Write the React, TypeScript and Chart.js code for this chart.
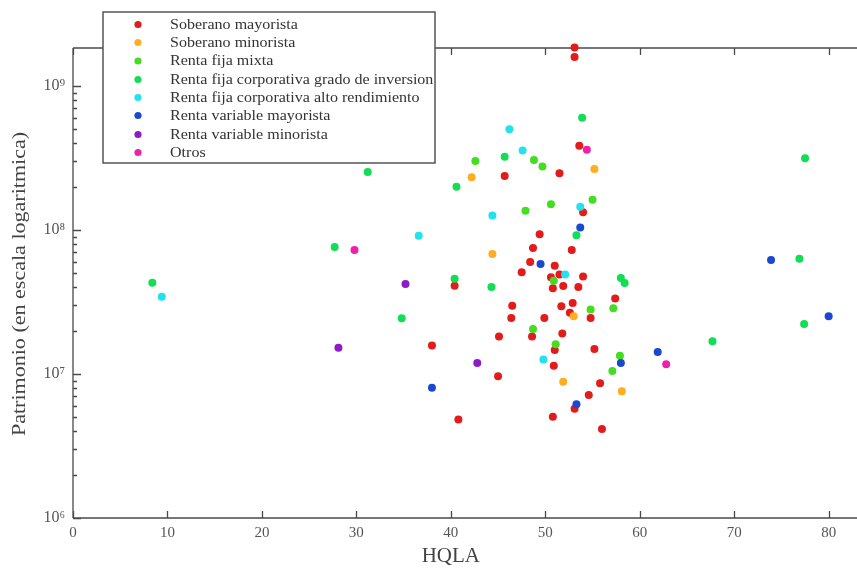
import React, { useEffect, useRef } from "react";
import { Chart, registerables } from "chart.js";

Chart.register(...registerables);

// ---------- data ----------
const seriesNames = [
  "Soberano mayorista",
  "Soberano minorista",
  "Renta fija mixta",
  "Renta fija corporativa grado de inversion",
  "Renta fija corporativa alto rendimiento",
  "Renta variable mayorista",
  "Renta variable minorista",
  "Otros",
];
const seriesColors = [
  "#e21b1b",
  "#ffae1f",
  "#44dd22",
  "#11dd55",
  "#22e2ee",
  "#1a48d0",
  "#8c1cc8",
  "#ee22aa",
];

const soberanoMayoristaX = [53.1, 53.1, 53.6, 51.5, 45.7, 54.0, 49.4, 48.7, 52.8, 48.4, 51.0, 47.5, 50.6, 51.5, 54.0, 50.8, 51.9, 53.5, 40.4, 57.4, 46.5, 46.4, 51.7, 52.9, 52.6, 49.9, 54.8, 48.6, 45.1, 51.8, 38.0, 51.0, 55.2, 50.9, 45.0, 55.8, 54.6, 53.1, 50.8, 40.8, 56.0];
const soberanoMayoristaY = [1.85e9, 1.59e9, 3.85e8, 2.48e8, 2.37e8, 1.33e8, 9.33e7, 7.5e7, 7.26e7, 6.0e7, 5.65e7, 5.08e7, 4.7e7, 4.9e7, 4.75e7, 3.94e7, 4.08e7, 4.02e7, 4.1e7, 3.34e7, 2.98e7, 2.45e7, 2.95e7, 3.11e7, 2.66e7, 2.45e7, 2.45e7, 1.82e7, 1.82e7, 1.91e7, 1.58e7, 1.47e7, 1.49e7, 1.14e7, 9.64e6, 8.61e6, 7.14e6, 5.74e6, 5.05e6, 4.84e6, 4.15e6];

const soberanoMinoristaX = [55.2, 42.2, 44.4, 53.0, 51.9, 58.1];
const soberanoMinoristaY = [2.65e8, 2.32e8, 6.81e7, 2.52e7, 8.85e6, 7.6e6];

const rentaFijaMixtaX = [42.6, 48.8, 49.7, 55.0, 50.6, 47.9, 50.9, 48.7, 51.1, 54.8, 57.2, 57.9, 57.1];
const rentaFijaMixtaY = [3.01e8, 3.06e8, 2.76e8, 1.62e8, 1.51e8, 1.36e8, 4.44e7, 2.05e7, 1.61e7, 2.8e7, 2.86e7, 1.34e7, 1.05e7];

const corpGradoX = [53.9, 45.7, 40.6, 53.3, 40.4, 44.3, 34.8, 58.0, 58.4, 77.5, 76.9, 77.4, 67.7, 8.4, 31.2, 27.7];
const corpGradoY = [6.03e8, 3.23e8, 2.0e8, 9.19e7, 4.58e7, 4.02e7, 2.44e7, 4.64e7, 4.29e7, 3.15e8, 6.32e7, 2.22e7, 1.69e7, 4.31e7, 2.53e8, 7.62e7];

const corpAltoX = [46.2, 47.6, 44.4, 53.7, 36.6, 52.1, 49.8, 9.4];
const corpAltoY = [5.0e8, 3.56e8, 1.26e8, 1.45e8, 9.12e7, 4.9e7, 1.26e7, 3.44e7];

const rvMayoristaX = [53.7, 49.5, 58.0, 53.3, 38.0, 73.9, 80.0, 61.9];
const rvMayoristaY = [1.04e8, 5.81e7, 1.19e7, 6.17e6, 8.04e6, 6.19e7, 2.52e7, 1.42e7];

const rvMinoristaX = [35.2, 42.8, 28.1];
const rvMinoristaY = [4.21e7, 1.19e7, 1.52e7];

const otrosX = [54.4, 29.8, 62.8];
const otrosY = [3.61e8, 7.26e7, 1.17e7];

const seriesX = [soberanoMayoristaX, soberanoMinoristaX, rentaFijaMixtaX, corpGradoX, corpAltoX, rvMayoristaX, rvMinoristaX, otrosX];
const seriesY = [soberanoMayoristaY, soberanoMinoristaY, rentaFijaMixtaY, corpGradoY, corpAltoY, rvMayoristaY, rvMinoristaY, otrosY];

const xTickValues = [0, 10, 20, 30, 40, 50, 60, 70, 80];
const yTickValues = [1e6, 1e7, 1e8, 1e9];
const yTickLabels = ["10\u2076", "10\u2077", "10\u2078", "10\u2079"];

const xTitle = "HQLA";
const yTitle = "Patrimonio (en escala logaritmica)";

// ---------- styling ----------
const FONT = '"Liberation Serif", "DejaVu Serif", serif';
const AXIS_COLOR = "#4a4a4a";
const TEXT_COLOR = "#444";

function stretchedText(ctx: any, text: string, x: number, y: number, sx: number) {
  ctx.save();
  ctx.translate(x, y);
  ctx.scale(sx, 1);
  ctx.fillText(text, 0, 0);
  ctx.restore();
}

const framePlugin = {
  id: "frame",
  beforeDatasetsDraw(chart: any) {
    const { ctx, chartArea: a, scales } = chart;
    const x = scales.x;
    const y = scales.y;
    ctx.save();
    ctx.strokeStyle = AXIS_COLOR;
    ctx.lineWidth = 1.3;
    ctx.beginPath();
    ctx.moveTo(a.left, a.top);
    ctx.lineTo(a.right, a.top);
    ctx.moveTo(a.left, a.top);
    ctx.lineTo(a.left, a.bottom);
    ctx.moveTo(a.left, a.bottom);
    ctx.lineTo(a.right, a.bottom);
    for (const v of xTickValues) {
      const px = Math.round(x.getPixelForValue(v)) + 0.5;
      ctx.moveTo(px, a.bottom);
      ctx.lineTo(px, a.bottom - 7);
      ctx.moveTo(px, a.top);
      ctx.lineTo(px, a.top + 7);
    }
    for (let e = 6; e <= 9; e++) {
      for (let m = 1; m <= 9; m++) {
        const v = m * Math.pow(10, e);
        if (v > y.max) break;
        const py = Math.round(y.getPixelForValue(v)) + 0.5;
        const len = m === 1 ? 8 : 4;
        ctx.moveTo(a.left, py);
        ctx.lineTo(a.left + len, py);
      }
    }
    ctx.stroke();

    // axis titles
    ctx.fillStyle = TEXT_COLOR;
    ctx.textAlign = "center";
    ctx.textBaseline = "middle";
    ctx.font = `20px ${FONT}`;
    stretchedText(ctx, xTitle, x.getPixelForValue(40), 557, 1.05);
    ctx.save();
    ctx.translate(20, 284);
    ctx.rotate(-Math.PI / 2);
    ctx.font = `19px ${FONT}`;
    stretchedText(ctx, yTitle, 0, 0, 1.16);
    ctx.restore();
    ctx.restore();
  },
  afterDraw(chart: any) {
    const { ctx } = chart;
    ctx.save();
    // legend box
    const bx = 103, by = 12, bw = 332, bh = 151;
    ctx.fillStyle = "#ffffff";
    ctx.fillRect(bx, by, bw, bh);
    ctx.strokeStyle = "#555";
    ctx.lineWidth = 1.5;
    ctx.strokeRect(bx, by, bw, bh);
    ctx.font = `15px ${FONT}`;
    ctx.textAlign = "left";
    ctx.textBaseline = "middle";
    const rowY = [24.5, 42.5, 61, 79.5, 97.5, 115.5, 134.5, 152.5];
    seriesNames.forEach((name, i) => {
      ctx.fillStyle = seriesColors[i];
      ctx.beginPath();
      ctx.arc(138, rowY[i], 3.6, 0, Math.PI * 2);
      ctx.fill();
      ctx.fillStyle = "#333";
      stretchedText(ctx, name, 170, rowY[i] + 0.5, 1.07);
    });
    ctx.restore();
  },
};

export default function App() {
  const ref = useRef<HTMLCanvasElement | null>(null);
  useEffect(() => {
    if (!ref.current) return;
    const datasets = seriesNames.map((name, i) => ({
      label: name,
      data: seriesX[i].map((xv, j) => ({ x: xv, y: seriesY[i][j] })),
      backgroundColor: seriesColors[i],
      borderColor: seriesColors[i],
      borderWidth: 0,
      pointRadius: 4,
      pointHoverRadius: 4,
      order: seriesNames.length - i,
      clip: false as any,
    }));
    const chart = new Chart(ref.current, {
      type: "scatter",
      data: { datasets },
      plugins: [framePlugin],
      options: {
        animation: false,
        responsive: false,
        events: [],
        layout: { autoPadding: false, padding: { top: 48, left: 0, right: 0, bottom: 0 } },
        plugins: { legend: { display: false }, tooltip: { enabled: false } },
        scales: {
          x: {
            type: "linear",
            min: 0,
            max: 83,
            border: { display: false },
            grid: { display: false, drawTicks: false },
            afterBuildTicks: (s: any) => {
              s.ticks = xTickValues.map((v) => ({ value: v }));
            },
            afterFit: (s: any) => {
              s.height = 51;
            },
            ticks: {
              padding: 6,
              color: "#555",
              font: { family: FONT, size: 15 },
              maxRotation: 0,
              autoSkip: false,
              callback: (v: any) => String(v),
            },
          },
          y: {
            type: "logarithmic",
            min: 1e6,
            max: 1.836e9,
            border: { display: false },
            grid: { display: false, drawTicks: false },
            afterBuildTicks: (s: any) => {
              s.ticks = yTickValues.map((v) => ({ value: v }));
            },
            afterFit: (s: any) => {
              s.width = 73;
            },
            ticks: {
              padding: 8,
              color: "#555",
              font: { family: FONT, size: 16 },
              autoSkip: false,
              callback: (v: any) => {
                const k = yTickValues.indexOf(Number(v));
                return k >= 0 ? yTickLabels[k] : "";
              },
            },
          },
        },
      },
    });
    return () => chart.destroy();
  }, []);
  return (
    <div style={{ position: "absolute", left: 0, top: 0, width: 857, height: 569, background: "#fff" }}>
      <canvas ref={ref} width={857} height={569} style={{ display: "block" }} />
    </div>
  );
}
